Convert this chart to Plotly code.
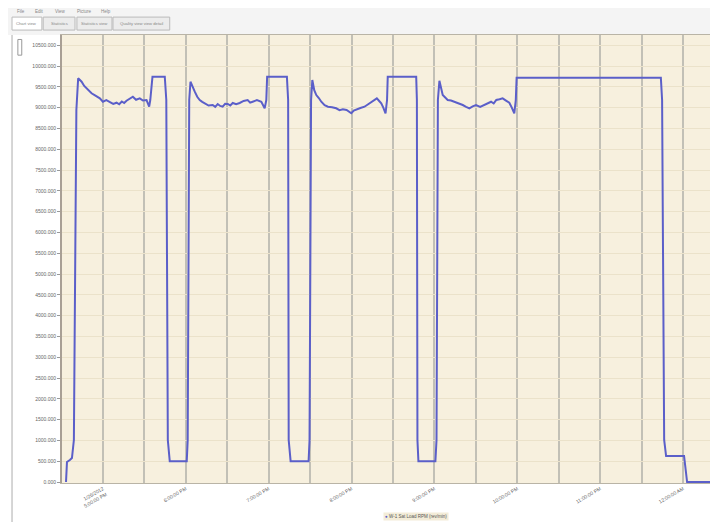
import plotly.graph_objects as go

# ---- data (minutes from first labelled tick, RPM) ----
minutes = [-26.7, -26.0, -23.9, -22.4, -21.0, -19.2, -17.9,
           -15.4, -13.5, -11.8, -10.0, -8.2, -6.0, -4.0, -2.2, 0.0, 2.5, 5.1, 7.5, 9.9, 11.8, 13.7, 15.4,
           17.1, 19.5, 21.7, 24.0, 26.7, 29.0, 31.6, 33.5, 34.3,
           35.9, 44.8, 45.9, 47.0, 48.4, 60.7, 61.4, 62.5, 63.4,
           65.0, 66.5, 68.3, 70.1, 71.9, 73.7, 76.5, 79.5, 81.3, 83.1, 84.9, 86.7, 88.5, 90.4, 92.2, 94.0,
           96.5, 99.0, 101.9, 104.8, 106.6, 108.4, 111.5, 114.7, 117.1, 118.3,
           118.9, 133.2, 134.1, 134.5, 135.9, 148.9, 149.6, 150.7, 151.6,
           153.0, 154.5, 156.3, 158.1, 160.5, 162.9, 165.9, 168.9, 171.3, 173.7, 176.4, 178.1, 179.8,
           181.6, 183.4, 186.4, 189.4, 191.8, 194.2, 196.2, 198.3, 200.0, 201.5, 203.0, 204.6, 205.7,
           206.2, 226.8, 227.3, 227.7, 228.4, 240.7, 241.5, 242.5, 243.6,
           246.0, 247.8, 249.6, 252.0, 254.5, 257.5, 260.5, 262.9, 265.3, 267.7, 270.1, 273.1, 276.1,
           278.5, 281.0, 282.9, 284.8, 287.1, 289.4, 291.8, 294.2, 296.0, 297.8, 298.9,
           299.5, 403.9, 404.8, 406.3, 407.7, 420.7, 421.8, 422.9, 440.2]
rpm = [0, 480, 529, 577, 1010, 8943, 9705,
       9623, 9520, 9465, 9400, 9344, 9300, 9260, 9224, 9142, 9180, 9135, 9090, 9118, 9080, 9147, 9110,
       9166, 9210, 9263, 9190, 9224, 9170, 9183, 9022, 9183,
       9744, 9744, 9183, 1010, 500, 500, 1010, 9183, 9623,
       9480, 9383, 9260, 9183, 9140, 9111, 9050, 9063, 9020, 9087, 9040, 9022, 9090, 9087, 9050, 9111,
       9080, 9111, 9160, 9183, 9120, 9142, 9180, 9142, 8984, 9183,
       9744, 9744, 9183, 1010, 500, 500, 1010, 9183, 9664,
       9420, 9303, 9230, 9142, 9060, 9022, 9010, 8984, 8940, 8960, 8943, 8900, 8864,
       8930, 8960, 8990, 9022, 9080, 9142, 9190, 9224, 9160, 9104, 9000, 8864, 9183,
       9744, 9744, 9183, 1010, 500, 500, 1010, 9183, 9647,
       9303, 9250, 9183, 9170, 9142, 9100, 9063, 9020, 8984, 9030, 9063, 9020, 9063,
       9110, 9142, 9100, 9183, 9200, 9224, 9170, 9118, 9000, 8864, 9183,
       9720, 9720, 9183, 1010, 625, 625, 288, 0, 0]

x_tick_vals = [0, 60, 120, 180, 240, 300, 360, 420]
x_tick_text = ["1/26/2012<br>5:00:00 PM", "6:00:00 PM", "7:00:00 PM", "8:00:00 PM",
               "9:00:00 PM", "10:00:00 PM", "11:00:00 PM", "12:00:00 AM"]
y_tick_vals = list(range(0, 10501, 500))
series_name = "W-1 Sat Load RPM (rev/min)"
menu_items = ["File", "Edit", "View", "Picture", "Help"]
tab_labels = ["Chart view", "Statistics", "Statistics view", "Quality view view detail"]

LINE = "#5b5fc9"
BG = "#f7f0de"

fig = go.Figure()
fig.add_trace(go.Scatter(x=minutes, y=rpm, mode="lines", name=series_name,
                         line=dict(color=LINE, width=2), showlegend=False))

# the page body adds an 8px offset, so the figure is 8px smaller and margins shifted
fig.update_layout(
    width=710, height=514,
    margin=dict(l=54, r=7, t=27, b=39, autoexpand=False),
    paper_bgcolor="white", plot_bgcolor=BG,
    font=dict(family="Liberation Sans, Arial", size=6, color="#666666"),
    showlegend=False,
    xaxis=dict(range=[-29.6, 440.2], tickvals=x_tick_vals, ticktext=x_tick_text,
               tickangle=-30, showgrid=True, gridcolor="#c2c0b6", gridwidth=1.5,
               minor=dict(dtick=30, tick0=0, showgrid=True, gridcolor="#c2c0b6", gridwidth=1.5),
               zeroline=False, showline=True, linecolor="#b9b4a6", mirror=True,
               ticks="", automargin=False, tickfont=dict(size=5, color="#666")),
    yaxis=dict(range=[-24, 10746], tickvals=y_tick_vals, tickformat=".3f",
               showgrid=True, gridcolor="#ebe2ca", gridwidth=1,
               zeroline=False, showline=True, linecolor="#a89f95", linewidth=2,
               ticks="outside", ticklen=3, tickcolor="#999", automargin=False,
               tickfont=dict(size=5, color="#666")),
)

# legend box (drawn as annotation so it stays small like the original)
fig.add_annotation(xref="paper", yref="paper", x=0.4946, y=-0.064, xanchor="left", yanchor="top",
                   text=f"<span style='color:{LINE}'>●</span> {series_name}",
                   showarrow=False, bgcolor="#f3ecd8", borderpad=1,
                   font=dict(size=4.5, color="#555"))

# window chrome: menu bar, tabs and frame
fig.add_shape(type="rect", xref="paper", yref="paper", x0=-0.1, x1=1.02, y0=1.0, y1=1.08,
              fillcolor="#f4f4f4", line=dict(width=0), layer="below")
menu_x = [-0.072, -0.045, -0.014, 0.020, 0.057]
for name, mx in zip(menu_items, menu_x):
    fig.add_annotation(xref="paper", yref="paper", x=mx, y=1.053, xanchor="left", yanchor="middle",
                       text=name, showarrow=False, font=dict(size=4.5, color="#888"))
tab_x = [(-0.077, -0.031), (-0.029, 0.020), (0.023, 0.077), (0.0786, 0.166)]
for label, (a, b) in zip(tab_labels, tab_x):
    fig.add_shape(type="rect", xref="paper", yref="paper", x0=a, x1=b, y0=1.011, y1=1.040,
                  fillcolor="white" if label == "Chart view" else "#ececec",
                  line=dict(color="#bbbbbb", width=1))
    fig.add_annotation(xref="paper", yref="paper", x=(a + b) / 2, y=1.0255, xanchor="center",
                       yanchor="middle", text=label, showarrow=False,
                       font=dict(size=4.2, color="#888"))
fig.add_shape(type="line", xref="paper", yref="paper", x0=-0.077, x1=-0.077, y0=-0.1, y1=1.0,
              line=dict(color="#c8c8c8", width=1.5))
fig.add_shape(type="rect", xref="paper", yref="paper", x0=-0.068, x1=-0.062, y0=0.955, y1=0.99,
              line=dict(color="#999", width=1))

fig.write_html("out.html")
